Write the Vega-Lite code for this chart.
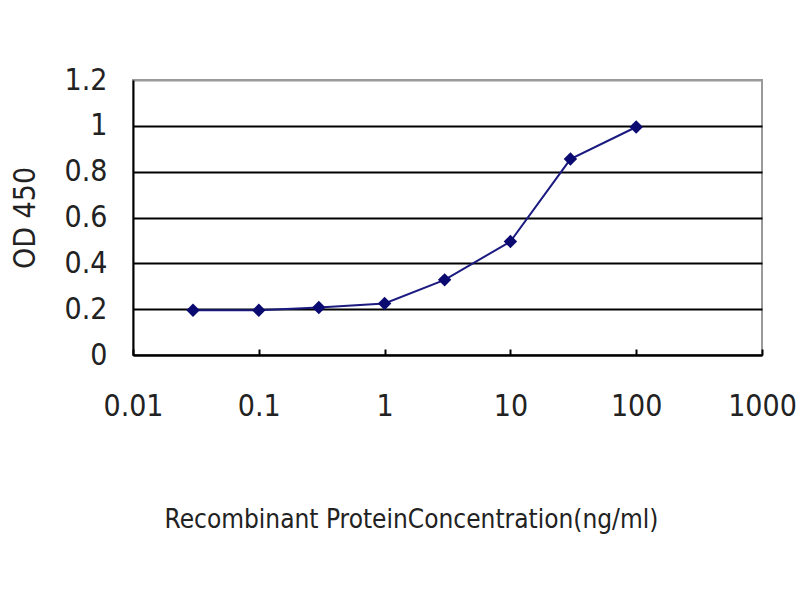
{
  "$schema": "https://vega.github.io/schema/vega-lite/v6.json",
  "autosize": "none",
  "width": 629,
  "height": 275,
  "padding": {"left": 133, "top": 80, "right": 38, "bottom": 245},
  "background": "white",
  "config": {
    "view": {"stroke": "#9a9a9a", "strokeWidth": 2},
    "font": "DejaVu Sans Condensed, Liberation Sans, sans-serif"
  },
  "data": {
    "values": [
      {"conc": 0.03, "od": 0.195},
      {"conc": 0.1, "od": 0.195},
      {"conc": 0.3, "od": 0.207},
      {"conc": 1, "od": 0.225},
      {"conc": 3, "od": 0.328},
      {"conc": 10, "od": 0.495},
      {"conc": 30, "od": 0.855},
      {"conc": 100, "od": 0.995}
    ]
  },
  "encoding": {
    "x": {
      "field": "conc",
      "type": "quantitative",
      "scale": {"type": "log", "domain": [0.01, 1000], "nice": false},
      "axis": {
        "values": [0.01, 0.1, 1, 10, 100, 1000],
        "format": "~g",
        "grid": false,
        "domainColor": "black",
        "domainWidth": 2,
        "tickColor": "black",
        "tickSize": -6,
        "tickWidth": 2,
        "labelFlush": false,
        "labelOverlap": false,
        "labelFont": "DejaVu Sans Condensed, Liberation Sans, sans-serif",
        "labelFontSize": 30,
        "labelColor": "#222",
        "labelPadding": 42,
        "labelBaseline": "top",
        "title": "Recombinant ProteinConcentration(ng/ml)",
        "titleFont": "DejaVu Sans Condensed, Liberation Sans, sans-serif",
        "titleFontSize": 26,
        "titleFontWeight": "normal",
        "titleColor": "#222",
        "titleX": 278,
        "titleY": 172,
        "titleAlign": "center",
        "titleBaseline": "alphabetic"
      }
    },
    "y": {
      "field": "od",
      "type": "quantitative",
      "scale": {"domain": [0, 1.2], "nice": false},
      "axis": {
        "values": [0, 0.2, 0.4, 0.6, 0.8, 1, 1.2],
        "format": "~g",
        "grid": true,
        "gridColor": {"condition": {"test": "datum.value >= 1.19", "value": "#9a9a9a"}, "value": "black"},
        "gridWidth": 2,
        "gridOpacity": 1,
        "domainColor": "black",
        "domainWidth": 2,
        "ticks": false,
        "labelFlush": false,
        "labelFont": "DejaVu Sans Condensed, Liberation Sans, sans-serif",
        "labelFontSize": 30,
        "labelColor": "#222",
        "labelPadding": 26,
        "title": "OD 450",
        "titleFont": "DejaVu Sans Condensed, Liberation Sans, sans-serif",
        "titleFontSize": 30,
        "titleFontWeight": "normal",
        "titleColor": "#222",
        "titlePadding": 24
      }
    }
  },
  "layer": [
    {"mark": {"type": "line", "color": "#1a1a80", "strokeWidth": 2}},
    {"mark": {"type": "point", "shape": "diamond", "filled": true, "color": "#0a0a70", "size": 180, "opacity": 1}}
  ]
}
